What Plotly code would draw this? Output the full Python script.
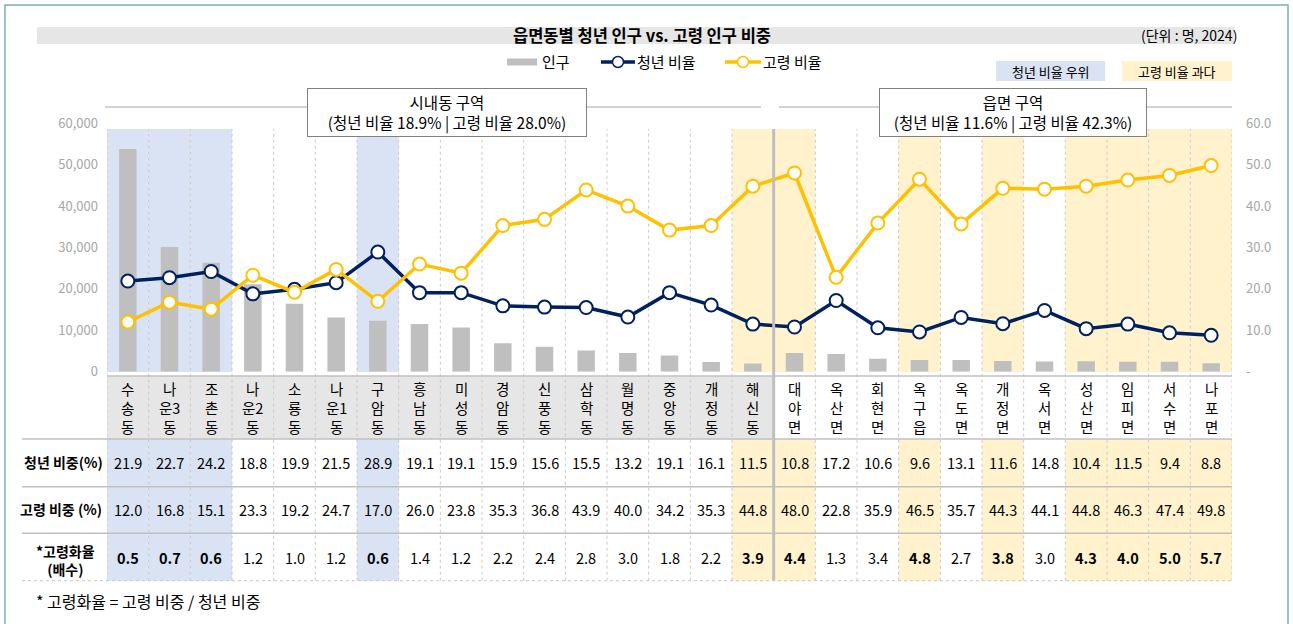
import plotly.graph_objects as go

W, H = 1293, 624

# data
districts = ["수송동", "나운3동", "조촌동", "나운2동", "소룡동", "나운1동", "구암동", "흥남동", "미성동",
             "경암동", "신풍동", "삼학동", "월명동", "중앙동", "개정동", "해신동",
             "대야면", "옥산면", "회현면", "옥구읍", "옥도면", "개정면", "옥서면", "성산면", "임피면",
             "서수면", "나포면"]
population = [53800, 30100, 26300, 21100, 16400, 13100, 12300, 11500, 10700, 6900, 6050, 5100, 4500,
              3900, 2350, 2000, 4500, 4300, 3100, 2850, 2850, 2600, 2450, 2500, 2400, 2400, 2050]
youth_share = [21.9, 22.7, 24.2, 18.8, 19.9, 21.5, 28.9, 19.1, 19.1, 15.9, 15.6, 15.5, 13.2, 19.1,
               16.1, 11.5, 10.8, 17.2, 10.6, 9.6, 13.1, 11.6, 14.8, 10.4, 11.5, 9.4, 8.8]
elder_share = [12.0, 16.8, 15.1, 23.3, 19.2, 24.7, 17.0, 26.0, 23.8, 35.3, 36.8, 43.9, 40.0, 34.2,
               35.3, 44.8, 48.0, 22.8, 35.9, 46.5, 35.7, 44.3, 44.1, 44.8, 46.3, 47.4, 49.8]
aging_ratio = [0.5, 0.7, 0.6, 1.2, 1.0, 1.2, 0.6, 1.4, 1.2, 2.2, 2.4, 2.8, 3.0, 1.8, 2.2, 3.9,
               4.4, 1.3, 3.4, 4.8, 2.7, 3.8, 3.0, 4.3, 4.0, 5.0, 5.7]
youth_lead = ["수송동", "나운3동", "조촌동", "구암동"]
elder_heavy = ["해신동", "대야면", "옥구읍", "개정면", "성산면", "임피면", "서수면", "나포면"]
n_dong = 16  # 시내동 columns before the divider

region_names = ["시내동 구역", "읍면 구역"]
region_youth = [18.9, 11.6]
region_elder = [28.0, 42.3]

left_ticks = [0, 10000, 20000, 30000, 40000, 50000, 60000]
right_ticks = [0, 10, 20, 30, 40, 50, 60]
right_ticktext = ["-", "10.0", "20.0", "30.0", "40.0", "50.0", "60.0"]
row_labels = ["청년 비중(%)", "고령 비중 (%)", "*고령화율<br>(배수)"]

NAVY = "#002060"
GOLD = "#ffc000"
BLUE_BG = "#dae3f3"
YEL_BG = "#fff2cc"
GRID = "#c8c8c8"
FONT = "Noto Sans CJK KR"
NUM_FONT = "Liberation Sans Narrow, Noto Sans CJK KR"


def px(x):
    return x / W


def py(y):
    return 1 - y / H


def note(text, x, y, size=14, xref="paper", xanchor="center", **kw):
    # every annotation anchored explicitly, positions given in pixels
    fx = px(x) if xref == "paper" else x
    d = dict(text=text, x=fx, y=py(y), xref=xref, yref="paper", xanchor=xanchor, yanchor="middle",
             showarrow=False, font=dict(size=size, color="black"))
    d.update(kw)
    return d


fig = go.Figure()
fig.add_trace(go.Bar(x=districts, y=population, marker=dict(color="#bfbfbf", line_width=0),
                     width=0.42, name="인구", yaxis="y"))
fig.add_trace(go.Scatter(x=districts, y=youth_share, mode="lines+markers", name="청년 비율",
                         line=dict(color=NAVY, width=3.5),
                         marker=dict(size=13, color="white", line=dict(color=NAVY, width=2)),
                         yaxis="y2"))
fig.add_trace(go.Scatter(x=districts, y=elder_share, mode="lines+markers", name="고령 비율",
                         line=dict(color=GOLD, width=3.5),
                         marker=dict(size=13, color="white", line=dict(color=GOLD, width=2)),
                         yaxis="y2"))

shapes = []
ann = []

# outer frame and title bar
shapes.append(dict(type="rect", xref="paper", yref="paper", x0=px(5), x1=px(1288), y0=py(640), y1=py(5),
                   line=dict(color="#79b0b6", width=1.5), fillcolor="rgba(0,0,0,0)"))
shapes.append(dict(type="rect", xref="paper", yref="paper", x0=px(37), x1=px(1234), y0=py(44), y1=py(27),
                   line_width=0, fillcolor="#e7e6e6", layer="below"))
ann.append(note("<b>읍면동별 청년 인구 vs. 고령 인구 비중</b>", 642, 35, size=16.5))
ann.append(note("(단위 : 명, 2024)", 1239, 35, size=14, xanchor="right"))

# legend
shapes.append(dict(type="rect", xref="paper", yref="paper", x0=px(507), x1=px(537), y0=py(65.5), y1=py(58.5),
                   line_width=0, fillcolor="#bfbfbf"))
ann.append(note("인구", 540, 62, size=15, xanchor="left"))
for (x0, x1, col, label) in [(601, 635, NAVY, "청년 비율"), (725, 761, GOLD, "고령 비율")]:
    shapes.append(dict(type="line", xref="paper", yref="paper", x0=px(x0), x1=px(x1), y0=py(62), y1=py(62),
                       line=dict(color=col, width=3.5)))
    cx = (x0 + x1) / 2
    shapes.append(dict(type="circle", xref="paper", yref="paper", x0=px(cx - 5.5), x1=px(cx + 5.5),
                       y0=py(67.5), y1=py(56.5), fillcolor="white", line=dict(color=col, width=1.5)))
    ann.append(note(label, x1, 62, size=15, xanchor="left"))

for (x0, x1, col, label) in [(996, 1105, BLUE_BG, "청년 비율 우위"), (1122, 1232, YEL_BG, "고령 비율 과다")]:
    shapes.append(dict(type="rect", xref="paper", yref="paper", x0=px(x0), x1=px(x1), y0=py(81), y1=py(61),
                       line_width=0, fillcolor=col))
    ann.append(note(label, (x0 + x1) / 2, 71, size=13))

# region divider line and boxes
shapes.append(dict(type="line", xref="paper", yref="paper", x0=px(105), x1=px(761), y0=py(107), y1=py(107),
                   line=dict(color="#a6a6a6", width=1)))
shapes.append(dict(type="line", xref="paper", yref="paper", x0=px(779), x1=px(1232), y0=py(107), y1=py(107),
                   line=dict(color="#a6a6a6", width=1)))
for name, yv, ev, cx, bw in zip(region_names, region_youth, region_elder, [447, 1013], [274, 262]):
    ann.append(note(f"{name}<br>(청년 비율 {yv:.1f}% | 고령 비율 {ev:.1f}%)", cx, 112, size=15.5,
                    bgcolor="white", bordercolor="#808080", borderwidth=1, borderpad=2, width=bw))

# column shading
for i, d in enumerate(districts):
    col = BLUE_BG if d in youth_lead else YEL_BG if d in elder_heavy else None
    if col:
        for (ya, yb) in [(372, 129), (580.7, 439)]:
            shapes.append(dict(type="rect", xref="x", yref="paper", x0=i - 0.5, x1=i + 0.5,
                               y0=py(ya), y1=py(yb), line_width=0, fillcolor=col, layer="below"))
shapes.append(dict(type="rect", xref="x", yref="paper", x0=-0.5, x1=n_dong - 0.5, y0=py(439), y1=py(376),
                   line_width=0, fillcolor="#e7e6e6", layer="below"))

# vertical separators
for k in range(len(districts) + 1):
    if k == n_dong:
        continue
    shapes.append(dict(type="line", xref="x", yref="paper", x0=k - 0.5, x1=k - 0.5, y0=py(580.7), y1=py(129),
                       line=dict(color=GRID, width=1, dash="3px,3px"), layer="below"))
shapes.append(dict(type="line", xref="x", yref="paper", x0=n_dong - 0.5, x1=n_dong - 0.5,
                   y0=py(580.7), y1=py(129), line=dict(color="#bfbfbf", width=3)))

# horizontal table lines
shapes.append(dict(type="line", xref="paper", yref="paper", x0=px(107), x1=px(1232), y0=py(376), y1=py(376),
                   line=dict(color="#c0c0c0", width=1.5)))
for yy in [439, 486.7, 533.3]:
    shapes.append(dict(type="line", xref="paper", yref="paper", x0=px(22), x1=px(1232), y0=py(yy), y1=py(yy),
                       line=dict(color="#c0c0c0", width=1.5)))
shapes.append(dict(type="line", xref="paper", yref="paper", x0=px(22), x1=px(1232), y0=py(580.7),
                   y1=py(580.7), line=dict(color=GRID, width=1, dash="3px,3px")))

# category labels (vertical text)
for d in districts:
    txt = d[0] + "<br>" + d[1:-1] + "<br>" + d[-1]
    ann.append(note(txt, d, 407, size=14.5, xref="x"))

# table values
for i, d in enumerate(districts):
    hl = d in youth_lead or d in elder_heavy
    r3 = f"{aging_ratio[i]:.1f}"
    if hl:
        r3 = f"<b>{r3}</b>"
    for val, yy in [(f"{youth_share[i]:.1f}", 462), (f"{elder_share[i]:.1f}", 509), (r3, 557)]:
        a = note(val, d, yy, xref="x")
        a["font"] = dict(size=14.5, color="black", family=NUM_FONT)
        ann.append(a)

for lab, yy, cx in zip(row_labels, [462, 509, 560], [63, 61, 65]):
    ann.append(note(f"<b>{lab}</b>", cx, yy, size=14))

ann.append(note("* 고령화율 = 고령 비중 / 청년 비중", 34, 601, size=16, xanchor="left"))

fig.update_layout(
    width=W, height=H,
    margin=dict(l=0, r=0, t=0, b=0, autoexpand=False),
    paper_bgcolor="white",
    plot_bgcolor="rgba(0,0,0,0)",
    showlegend=False,
    font=dict(family=FONT, color="black"),
    shapes=shapes,
    annotations=ann,
    xaxis=dict(domain=[px(107), px(1232)], range=[-0.5, len(districts) - 0.5], type="category",
               showticklabels=False, showgrid=False, zeroline=False, showline=False, automargin=False),
    yaxis=dict(domain=[py(371.7), py(123.3)], range=[0, 60000], tickvals=left_ticks, tickformat=",",
               showgrid=False, zeroline=False, showline=False, ticklabelstandoff=8, automargin=False,
               tickfont=dict(size=13, color="#a6a6a6")),
    yaxis2=dict(overlaying="y", side="right", anchor="x", range=[0, 60], tickvals=right_ticks,
                ticktext=right_ticktext, showgrid=False, zeroline=False, showline=False,
                ticklabelstandoff=13, automargin=False, tickfont=dict(size=13, color="#a6a6a6")),
)

# drop the default 8px body margin so the figure sits at the page origin
fig.write_html("out.html", config={"displayModeBar": False},
               post_script="document.body.style.margin='0';")
